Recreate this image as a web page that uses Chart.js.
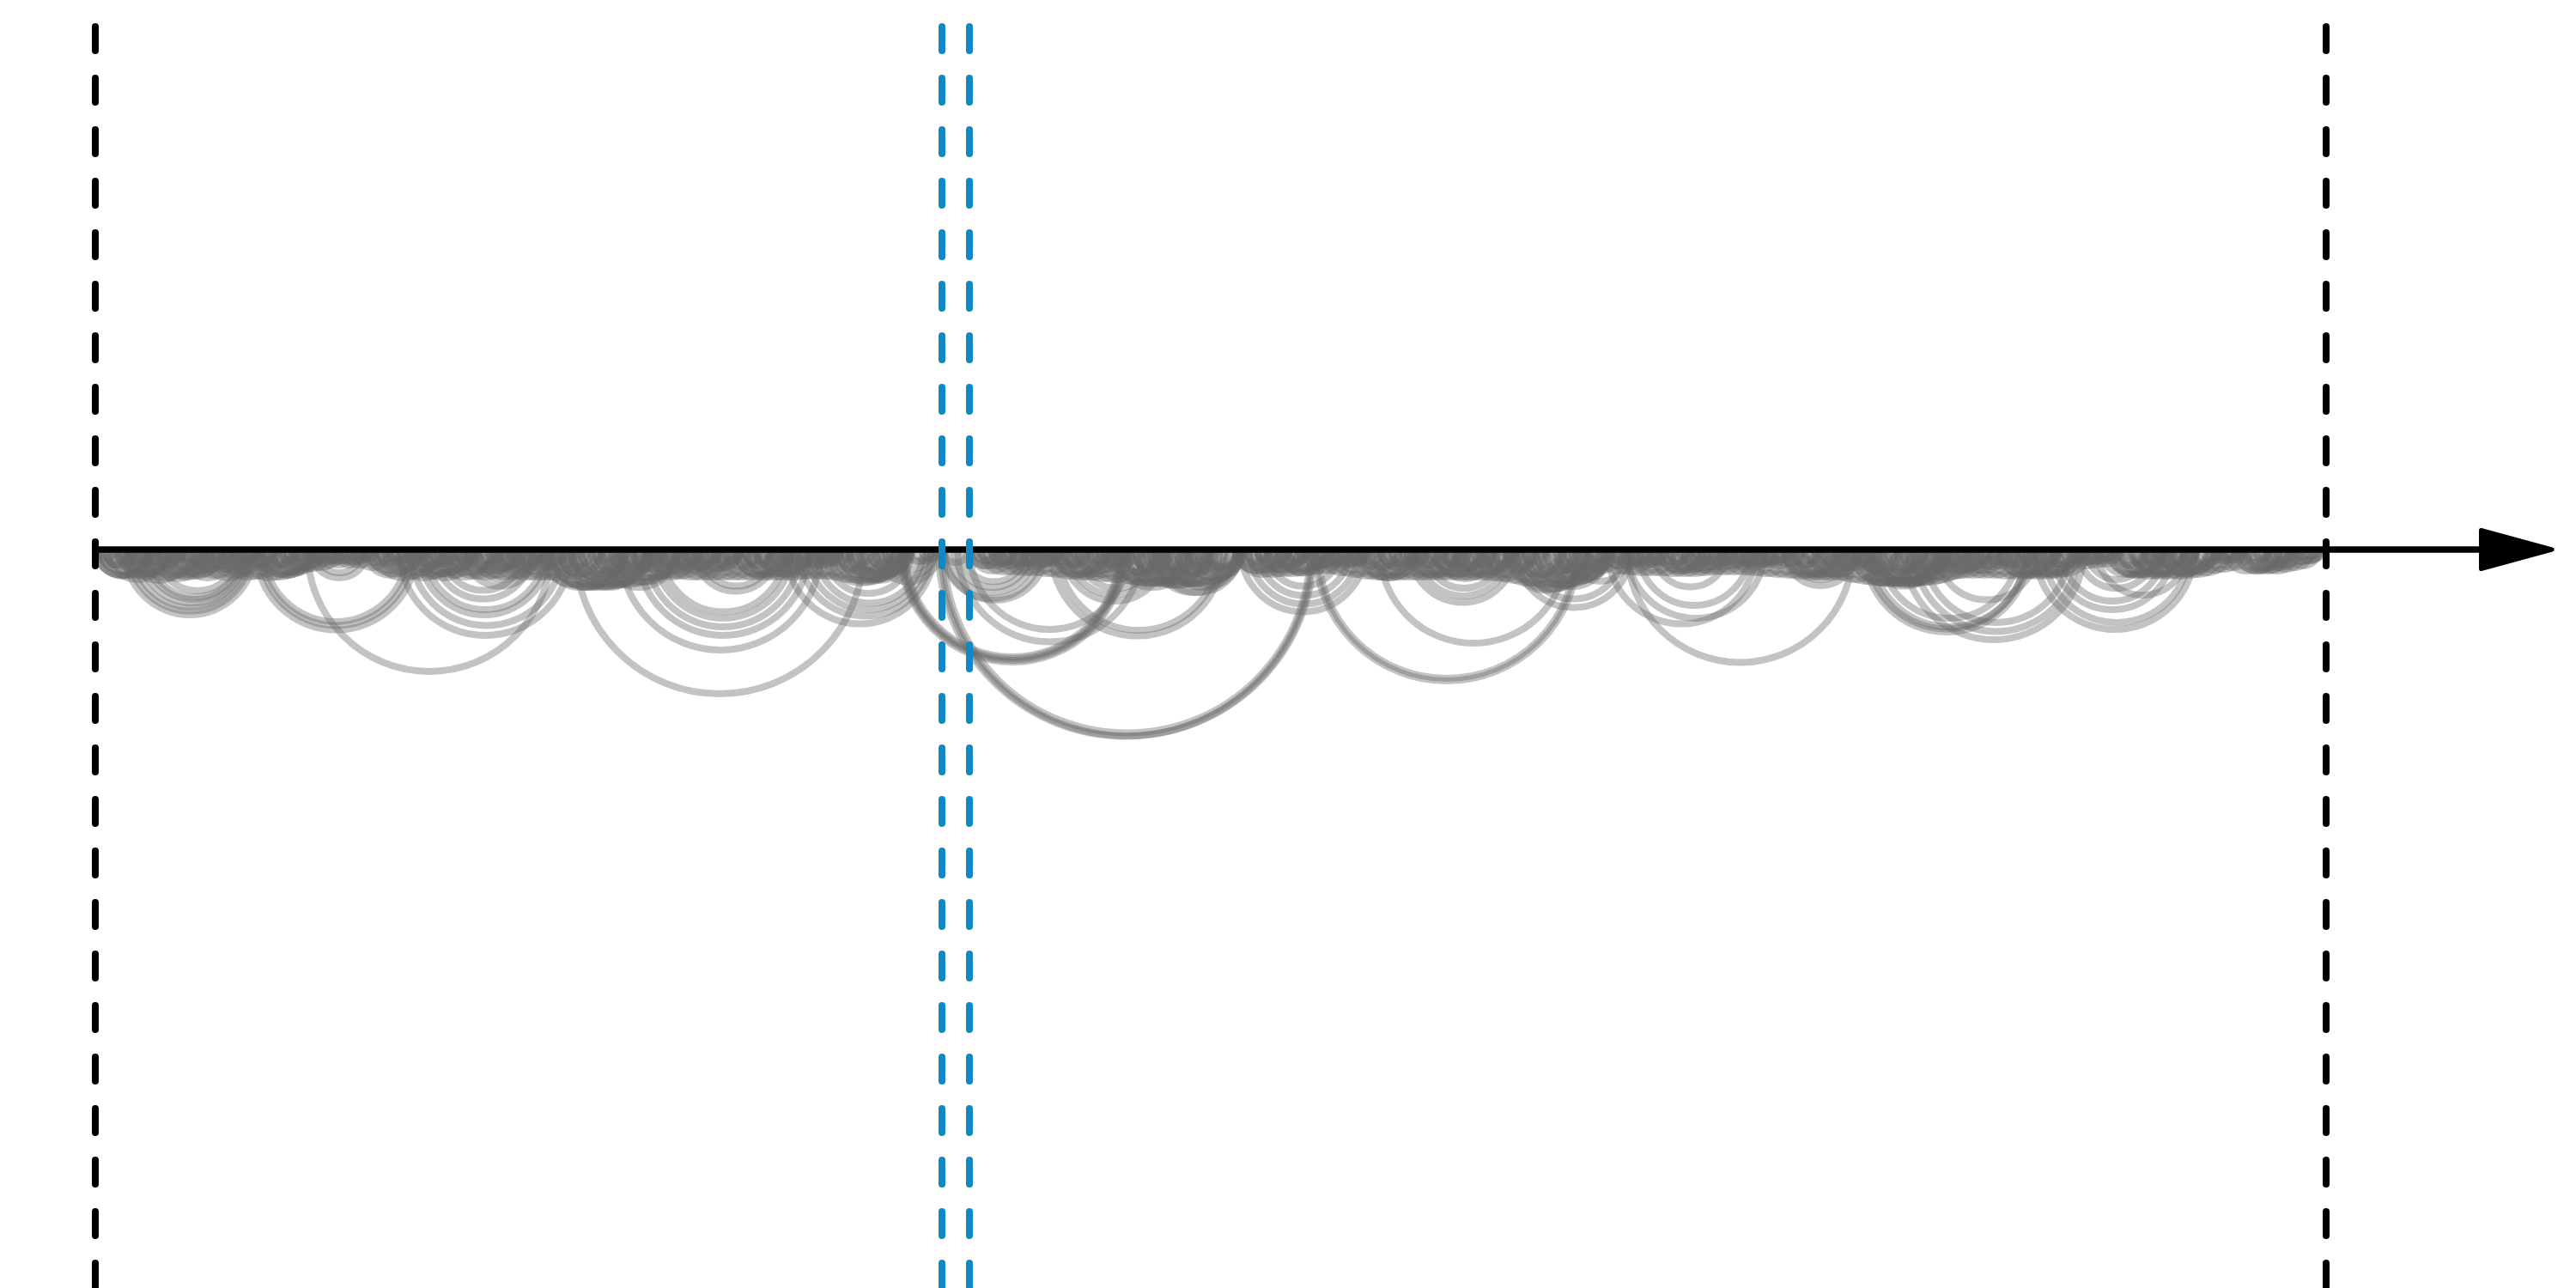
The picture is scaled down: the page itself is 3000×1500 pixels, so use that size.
<!DOCTYPE html>
<html><head><meta charset="utf-8">
<script src="https://cdn.jsdelivr.net/npm/chart.js@4.4.1/dist/chart.umd.min.js"></script>
<style>html,body{margin:0;padding:0;background:#fff;overflow:hidden}
#wrap{position:absolute;left:0;top:0;width:3000px;height:1500px}</style>
</head><body>
<div id="wrap"><canvas id="c"></canvas></div>
<script>
// Axis positions (same units as the links)
const regionBounds = [111, 2709];
const highlightBounds = [1097, 1129];
const axisEnd = 2975;

// Long-range links [from, to]
const longLinks = [
[145,297],[150,293],[155,290],[162,287],[168,284],[172,282],[182,278],
[185,245],[192,238],[205,232],
[298,485],[303,480],[307,475],
[358,642],
[362,428],[368,422],
[465,665],[478,655],[488,640],[495,635],[505,620],[515,610],[540,625],[550,620],
[670,1006],
[722,956],[742,942],[752,932],[762,922],[770,915],[808,905],[815,900],
[752,812],[765,800],
[915,1088],[930,1085],[940,1080],[950,1075],[960,1062],
[1020,1095],[1030,1090],[1040,1085],
[1048,1310],[1050,1308],[1052,1306],[1054,1304],
[1093,1528],[1096,1530],[1099,1526],
[1115,1330],[1129,1315],
[1098,1212],[1100,1218],[1105,1205],[1112,1200],[1120,1195],
[1098,1128],
[1224,1425],[1232,1420],
[1238,1358],[1245,1350],[1255,1345],
[1340,1440],[1350,1430],
[1445,1590],[1455,1582],[1465,1572],[1475,1560],[1490,1545],
[1532,1838],[1535,1835],
[1607,1825],
[1642,1765],[1650,1758],[1660,1750],[1672,1740],[1685,1730],
[1765,1900],[1775,1890],
[1895,2158],
[1872,2045],[1895,2055],[1908,2038],[1925,2012],
[2078,2162],[2085,2155],[2092,2150],
[2171,2363],[2175,2360],
[2175,2260],[2178,2257],[2180,2262],[2183,2255],
[2217,2427],[2229,2420],[2240,2410],
[2190,2350],[2180,2360],
[2370,2556],[2380,2550],
[2390,2530],[2400,2520],
[2420,2510],[2430,2500],
[2442,2548],
[2255,2372]
];

// Short-range links [from, to]
const shortLinks = [
[111,171],[114,150],[118,178],[122,160],[128,188],[133,165],[138,196],[143,175],[150,208],[156,190],[162,215],[168,200],[175,212],[182,206],[188,214],[115,135],[140,158],[170,186],[195,213],
[210,258],[216,250],[222,270],[228,260],[236,282],[244,272],[250,298],[258,286],[265,300],[272,296],[280,302],[225,240],[262,276],
[298,356],[303,340],[308,362],[314,350],[320,366],[327,355],[334,364],[300,320],[340,360],
[365,392],[372,398],[380,408],[390,416],[398,426],[406,430],[414,432],
[428,476],[434,466],[440,482],[447,475],[452,480],[458,484],[436,452],
[478,536],[484,520],[490,545],[496,530],[503,548],[510,540],[517,547],[486,502],[524,544],
[542,590],[548,580],[555,604],[562,596],[570,618],[578,610],[586,634],[594,626],[602,640],[610,636],[618,642],[550,566],[590,606],
[632,720],[638,700],[642,730],[648,690],[654,742],[660,720],[666,752],[672,730],[678,758],[686,740],[694,762],[702,750],[710,764],[718,756],[726,762],[645,668],[700,724],[735,755],
[756,804],[762,794],[768,816],[776,808],[784,832],[792,826],[800,848],[808,840],[816,862],[824,856],[832,862],[840,864],
[856,914],[862,900],[868,926],[876,910],[884,940],[892,930],[900,944],[908,938],[916,944],
[938,976],[944,970],[950,978],[958,980],
[972,1048],[978,1030],[984,1054],[990,1040],[996,1056],[1004,1050],[1012,1058],[1020,1052],[980,1000],[1030,1056],
[1052,1080],[1058,1086],[1066,1092],[1074,1096],
[1128,1166],[1134,1160],[1140,1178],[1148,1182],[1156,1194],[1164,1198],[1172,1210],[1180,1214],[1188,1226],[1196,1230],[1204,1234],[1212,1236],
[1228,1286],[1234,1270],[1240,1298],[1247,1282],[1254,1304],[1262,1296],[1270,1304],[1278,1302],
[1296,1374],[1302,1356],[1308,1386],[1315,1365],[1322,1398],[1330,1380],[1338,1408],[1346,1396],[1354,1410],[1362,1404],[1370,1410],[1300,1330],[1380,1408],
[1345,1445],[1355,1440],[1390,1440],[1398,1432],[1404,1448],
[1438,1486],[1444,1478],[1450,1498],[1458,1490],[1466,1512],[1474,1506],[1482,1522],[1490,1518],[1498,1524],
[1518,1556],[1524,1550],[1530,1568],[1538,1572],[1546,1584],[1554,1588],[1562,1592],[1570,1594],
[1580,1644],[1586,1630],[1592,1648],[1600,1640],[1608,1650],[1616,1646],
[1640,1698],[1646,1684],[1652,1710],[1660,1696],[1668,1724],[1676,1712],[1684,1740],[1692,1728],[1700,1756],[1708,1744],[1716,1764],[1724,1760],[1732,1766],
[1755,1850],[1760,1820],[1765,1855],[1772,1832],[1778,1862],[1786,1840],[1794,1864],[1802,1850],[1810,1866],[1818,1860],[1770,1800],
[1826,1900],[1834,1880],[1842,1890],[1850,1876],
[1868,1906],[1874,1900],[1880,1918],[1888,1922],[1896,1934],[1904,1938],[1912,1940],
[1932,1980],[1938,1970],[1944,1992],[1952,1984],[1960,2004],[1968,2000],[1976,2006],
[2000,2038],[2006,2032],[2012,2050],[2020,2054],[2028,2066],[2036,2070],[2044,2080],[2052,2082],[2060,2084],
[2078,2136],[2084,2120],[2090,2148],[2098,2132],[2106,2162],[2114,2150],[2122,2164],[2130,2160],
[2156,2234],[2162,2214],[2168,2246],[2176,2226],[2184,2262],[2192,2244],[2200,2270],[2208,2258],[2216,2268],[2224,2264],[2160,2190],
[2252,2300],[2258,2290],[2264,2312],[2272,2304],[2280,2328],[2288,2320],[2296,2334],[2304,2330],
[2326,2384],[2332,2370],[2338,2396],[2346,2380],[2354,2412],[2362,2398],[2370,2424],[2378,2414],[2386,2422],
[2420,2448],[2426,2454],[2434,2460],[2442,2464],
[2456,2514],[2462,2500],[2468,2526],[2476,2510],[2484,2542],[2492,2528],[2500,2558],[2508,2544],[2516,2572],[2524,2560],[2532,2580],[2540,2576],[2548,2582],
[2578,2604],[2584,2610],[2590,2614],
[2608,2656],[2614,2646],[2620,2668],[2628,2660],[2636,2672],[2644,2670],
[2668,2696],[2676,2702],[2684,2706]
];

// More short-range links [from, to]
const localLinks = [
[112,172],[118,154],[124,176],[130,154],[136,180],[142,200],[148,178],[154,202],[160,180],[166,206],[172,232],[178,214],[184,236],[190,214],[196,240],[202,260],[208,238],
[214,264],[220,250],[226,270],[232,254],[238,276],[244,292],[250,276],[256,296],[262,312],[268,298],[274,318],[280,302],[286,324],[292,340],[298,324],
[304,364],[310,346],[316,368],[322,346],[328,372],[334,376],[340,370],[346,380],[352,372],[358,384],
[364,394],[370,388],[376,402],[382,396],[388,410],[394,424],[400,418],[406,432],[412,426],[418,440],[424,454],
[430,486],[436,470],[442,492],[448,470],[454,496],[460,514],[466,494],[472,518],[478,496],[484,522],[490,546],[496,530],[502,552],[508,530],[514,556],[520,574],[526,554],[532,578],[538,556],[544,582],
[550,600],[556,586],[562,606],[568,590],[574,612],[580,628],[586,612],[592,632],[598,648],[604,634],[610,654],[616,638],[622,660],[628,676],[634,660],
[640,728],[646,702],[652,726],[658,698],[664,730],[670,754],[676,724],[682,752],[688,718],[694,754],[700,788],[706,762],[712,786],[718,758],[724,790],[730,774],[736,770],[742,788],[748,778],
[754,804],[760,790],[766,810],[772,794],[778,816],[784,832],[790,816],[796,836],[802,852],[808,838],[814,858],[820,842],[826,864],[832,880],[838,864],[844,884],[850,874],
[856,916],[862,898],[868,920],[874,898],[880,924],[886,944],[892,922],[898,946],[904,924],[910,950],[916,960],[922,952],[928,962],
[934,972],[940,964],[946,980],[952,970],[958,990],
[964,1042],[970,1016],[976,1040],[982,1016],[988,1060],[994,1048],[1000,1060],[1006,1040],[1012,1062],[1018,1050],[1024,1058],[1030,1060],
[1130,1168],[1136,1160],[1142,1176],[1148,1166],[1154,1184],[1160,1198],[1166,1190],[1172,1206],[1178,1196],[1184,1214],[1190,1228],[1196,1220],[1202,1236],[1208,1226],[1214,1244],[1220,1258],
[1226,1286],[1232,1268],[1238,1290],[1244,1268],[1250,1294],[1256,1314],[1262,1292],[1268,1314],[1274,1294],[1280,1318],[1286,1342],[1292,1326],
[1298,1386],[1304,1360],[1310,1384],[1316,1356],[1322,1388],[1328,1412],[1334,1382],[1340,1410],[1346,1376],[1352,1412],[1358,1446],[1364,1420],[1370,1444],[1376,1416],[1382,1448],[1388,1440],[1394,1442],[1400,1440],[1406,1446],
[1440,1490],[1446,1476],[1452,1496],[1458,1480],[1464,1502],[1470,1518],[1476,1502],[1482,1522],[1488,1538],[1494,1524],[1500,1544],[1506,1528],[1512,1550],
[1518,1556],[1524,1548],[1530,1564],[1536,1554],[1542,1572],[1548,1586],[1554,1578],[1560,1594],[1566,1584],[1572,1602],[1578,1616],
[1584,1650],[1590,1630],[1596,1656],[1602,1630],[1608,1652],[1614,1648],[1620,1660],[1626,1654],[1632,1664],
[1638,1698],[1644,1680],[1650,1702],[1656,1680],[1662,1706],[1668,1726],[1674,1704],[1680,1726],[1686,1706],[1692,1732],[1698,1758],[1704,1740],[1710,1762],[1716,1740],[1722,1766],[1728,1786],[1734,1764],[1740,1788],[1746,1766],[1752,1792],
[1758,1850],[1764,1822],[1770,1848],[1776,1818],[1782,1852],[1788,1874],[1794,1844],[1800,1874],[1806,1838],[1812,1876],[1818,1870],[1824,1870],[1830,1872],[1836,1874],[1842,1872],[1848,1878],
[1866,1904],[1872,1896],[1878,1912],[1884,1902],[1890,1920],[1896,1934],[1902,1926],[1908,1942],[1914,1932],[1920,1950],[1926,1964],
[1932,1982],[1938,1968],[1944,1988],[1950,1972],[1956,1994],[1962,2010],[1968,1994],[1974,2014],[1980,2006],[1986,2020],
[1994,2032],[2000,2024],[2006,2040],[2012,2030],[2018,2048],[2024,2062],[2030,2054],[2036,2070],[2042,2060],[2048,2078],[2054,2092],[2060,2084],[2066,2100],[2072,2090],
[2078,2138],[2084,2120],[2090,2142],[2096,2120],[2102,2146],[2108,2166],[2114,2144],[2120,2166],[2126,2146],[2132,2172],[2138,2180],[2144,2170],[2150,2182],
[2156,2234],[2162,2208],[2168,2232],[2174,2208],[2180,2252],[2186,2240],[2192,2270],[2198,2244],[2204,2268],[2210,2244],[2216,2280],[2222,2270],[2228,2276],[2234,2268],[2240,2290],[2246,2280],[2252,2290],
[2258,2308],[2264,2294],[2270,2314],[2276,2298],[2282,2320],[2288,2336],[2294,2320],[2300,2340],[2306,2330],[2312,2350],[2318,2348],[2324,2360],
[2330,2390],[2336,2372],[2342,2394],[2348,2372],[2354,2398],[2360,2418],[2366,2396],[2372,2418],[2378,2398],[2384,2424],[2390,2428],[2396,2424],[2402,2430],[2408,2432],
[2414,2444],[2420,2438],[2426,2452],[2432,2446],[2438,2460],[2444,2470],[2450,2468],
[2456,2516],[2462,2498],[2468,2520],[2474,2498],[2480,2524],[2486,2544],[2492,2522],[2498,2544],[2504,2524],[2510,2550],[2516,2572],[2522,2558],[2528,2580],[2534,2558],[2540,2584],[2546,2586],[2552,2582],[2558,2588],
[2576,2604],[2582,2600],[2588,2614],[2594,2610],
[2604,2654],[2610,2640],[2616,2660],[2622,2644],[2628,2666],[2634,2676],[2640,2666],[2646,2680],[2652,2674],
[2666,2694],[2672,2690],[2678,2704],[2684,2700]
];

// Mid-range neighbouring links [from, to]
const nearLinks = [
[113,175],[125,195],[137,199],[149,221],[161,227],[173,241],[185,249],[197,259],[209,275],[221,281],[233,299],[245,305],[257,321],[269,331],[281,347],[293,357],[305,365],[317,371],[329,377],
[341,385],[353,395],[365,401],[377,413],[389,425],[401,437],[413,455],
[425,485],[437,503],[449,511],[461,527],[473,535],[485,551],[497,557],[509,573],[521,583],[533,597],[545,605],[557,621],[569,631],[581,645],[593,657],[605,669],[617,683],
[629,711],[641,727],[653,737],[665,753],[677,759],[689,771],[701,779],[713,789],
[725,791],[737,799],[749,813],[761,823],[773,837],[785,849],[797,861],[809,873],[821,885],[833,897],[845,909],[857,921],[869,933],[881,945],[893,957],[905,967],[917,979],[929,991],[941,1005],[953,1023],[965,1037],[977,1049],[989,1057],[1001,1061],
[1131,1181],[1143,1195],[1155,1207],[1167,1221],[1179,1233],[1191,1247],[1203,1261],[1215,1277],[1227,1291],[1239,1303],[1251,1319],[1263,1333],[1275,1347],[1287,1363],[1299,1379],[1311,1391],[1323,1405],[1335,1417],[1347,1427],[1359,1439],[1371,1445],[1383,1449],
[1441,1499],[1453,1511],[1465,1521],[1477,1533],[1489,1543],[1501,1553],[1513,1563],[1525,1575],[1537,1591],[1549,1607],[1561,1623],[1573,1637],[1585,1651],[1597,1661],[1609,1673],[1621,1685],[1633,1697],[1645,1709],[1657,1721],[1669,1733],[1681,1745],[1693,1757],[1705,1771],[1717,1785],[1729,1801],[1741,1819],[1753,1833],[1765,1847],[1777,1859],[1789,1869],[1801,1875],[1813,1879],
[1861,1911],[1873,1925],[1885,1939],[1897,1951],[1909,1963],[1921,1977],[1933,1989],[1945,2001],[1957,2011],[1969,2021],[1981,2033],[1993,2045],[2005,2057],[2017,2071],[2029,2085],[2041,2099],[2053,2113],[2065,2127],[2077,2141],[2089,2153],[2101,2165],[2113,2177],
[2125,2195],[2137,2211],[2149,2227],[2161,2241],[2173,2253],[2185,2265],[2197,2275],[2209,2285],[2221,2293],[2233,2299],[2245,2307],[2257,2317],[2269,2329],[2281,2341],[2293,2353],[2305,2367],[2317,2379],[2329,2391],[2341,2403],[2353,2415],[2365,2425],[2377,2433],
[2411,2449],[2423,2459],[2435,2469],
[2447,2505],[2459,2519],[2471,2533],[2483,2545],[2495,2557],[2507,2569],[2519,2579],[2531,2589],[2543,2597],[2555,2603],
[2567,2613],[2579,2621],[2591,2641],[2603,2653],[2615,2665],[2627,2677],[2639,2685],[2651,2693],[2663,2701]
];

const allLinks = longLinks.concat(shortLinks, localLinks, nearLinks);
const linkPoints = allLinks.map(([s, t]) => ({ x: (s + t) / 2, y: 0, s: s, t: t }));

const linkColor = 'rgba(105,105,105,0.4)';
const linkWidth = 8;

function arcRadius(c) {
  const d = c.raw;
  if (!d || d.s === undefined) return 0;
  const sc = c.chart.scales.x;
  return Math.abs(sc.getPixelForValue(d.t) - sc.getPixelForValue(d.s)) / 2;
}

const overlay = {
  id: 'overlay',
  afterDatasetsDraw(chart) {
    const ctx = chart.ctx;
    const xs = chart.scales.x, ys = chart.scales.y;
    const area = chart.chartArea;
    const meta = chart.getDatasetMeta(0);
    ctx.save();
    ctx.beginPath();
    ctx.rect(area.left, area.top, area.right - area.left, area.bottom - area.top);
    ctx.clip();
    ctx.strokeStyle = linkColor;
    ctx.lineWidth = linkWidth;
    meta.data.forEach(el => {
      const r = el.options.radius;
      if (!(r > 0)) return;
      ctx.beginPath();
      ctx.arc(el.x, el.y, r, 0, Math.PI);
      ctx.stroke();
    });
    ctx.restore();

    const y0 = ys.getPixelForValue(0);
    const xStart = xs.getPixelForValue(regionBounds[0]);
    const xTip = xs.getPixelForValue(axisEnd);
    ctx.save();
    ctx.strokeStyle = '#000';
    ctx.lineWidth = 7.5;
    ctx.lineCap = 'butt';
    ctx.beginPath();
    ctx.moveTo(xStart, y0);
    ctx.lineTo(xTip - 80, y0);
    ctx.stroke();
    ctx.fillStyle = '#000';
    ctx.lineJoin = 'round';
    ctx.lineWidth = 5;
    ctx.beginPath();
    ctx.moveTo(xTip - 85.5, y0 - 22.5);
    ctx.lineTo(xTip - 3, y0);
    ctx.lineTo(xTip - 85.5, y0 + 22.5);
    ctx.closePath();
    ctx.fill();
    ctx.stroke();
    ctx.lineWidth = 8;
    ctx.lineCap = 'round';
    ctx.setLineDash([28, 32]);
    ctx.lineDashOffset = 29;
    const drawV = (v, color) => {
      const px = xs.getPixelForValue(v);
      ctx.strokeStyle = color;
      ctx.beginPath();
      ctx.moveTo(px, 0);
      ctx.lineTo(px, chart.height + 10);
      ctx.stroke();
    };
    regionBounds.forEach(v => drawV(v, '#000'));
    highlightBounds.forEach(v => drawV(v, '#1187c6'));
    ctx.restore();
  }
};

new Chart(document.getElementById('c'), {
  type: 'scatter',
  data: {
    datasets: [{
      data: linkPoints,
      clip: 0,
      showLine: false,
      pointStyle: 'circle',
      pointBackgroundColor: 'rgba(0,0,0,0)',
      pointBorderColor: 'rgba(0,0,0,0)',
      pointBorderWidth: 0,
      pointRadius: arcRadius,
      pointHoverRadius: arcRadius
    }]
  },
  options: {
    responsive: true,
    maintainAspectRatio: false,
    animation: false,
    devicePixelRatio: 1,
    events: [],
    layout: { padding: { top: 640, left: 0, right: 25, bottom: 0 } },
    scales: {
      x: { type: 'linear', min: 0, max: axisEnd, display: false },
      y: { type: 'linear', min: -100, max: 0, display: false }
    },
    plugins: { legend: { display: false }, tooltip: { enabled: false } }
  },
  plugins: [overlay]
});
</script>
</body></html>
